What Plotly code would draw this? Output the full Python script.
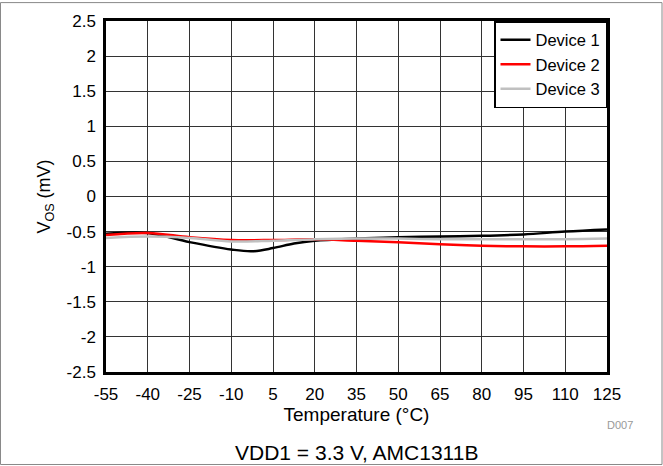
import plotly.graph_objects as go

temps1 = [-55, -40, -25, -10, -2.5, 5, 12.5, 20, 35, 50, 65, 80, 95, 110, 125]
dev1 = [-0.53, -0.52, -0.65, -0.755, -0.78, -0.735, -0.67, -0.63, -0.60, -0.58, -0.57, -0.56, -0.54, -0.50, -0.47]
temps = [-55, -40, -25, -10, 5, 20, 35, 50, 65, 80, 95, 110, 125]
dev2 = [-0.55, -0.52, -0.58, -0.62, -0.62, -0.61, -0.63, -0.65, -0.68, -0.70, -0.71, -0.71, -0.70]
dev3 = [-0.59, -0.57, -0.59, -0.64, -0.63, -0.61, -0.60, -0.60, -0.61, -0.61, -0.61, -0.61, -0.60]
xticks = [-55, -40, -25, -10, 5, 20, 35, 50, 65, 80, 95, 110, 125]
yticks = [-2.5, -2, -1.5, -1, -0.5, 0, 0.5, 1, 1.5, 2, 2.5]

font = "Liberation Sans"
fig = go.Figure()
for name, xs, ys, col in [("Device 1", temps1, dev1, "black"),
                          ("Device 2", temps, dev2, "#ff0000"),
                          ("Device 3", temps, dev3, "#c0c0c0")]:
    fig.add_trace(go.Scatter(x=xs, y=ys, name=name, mode="lines",
                             line=dict(color=col, width=2.5, shape="spline", smoothing=1.0)))

fig.update_layout(
    width=663, height=466,
    margin=dict(l=106, r=56, t=19, b=94),
    paper_bgcolor="white", plot_bgcolor="white",
    font=dict(family=font, size=17, color="black"),
    showlegend=True,
    legend=dict(x=1, y=1, xanchor="right", yanchor="top", bgcolor="white",
                bordercolor="black", borderwidth=1.5, font=dict(size=16.5),
                tracegroupgap=0),
    xaxis=dict(range=[-55, 125], tickvals=xticks, ticktext=[str(t) for t in xticks],
               showgrid=True, gridcolor="#333", gridwidth=1, zeroline=False,
               showline=True, linecolor="black", linewidth=2.5, mirror=True,
               ticks="", ticklabelstandoff=5, tickfont=dict(size=17),
               title=dict(text="Temperature (°C)", font=dict(size=19), standoff=3)),
    yaxis=dict(range=[-2.5, 2.5], tickvals=yticks, ticktext=[("%g" % t) for t in yticks],
               showgrid=True, gridcolor="#333", gridwidth=1, zeroline=False,
               showline=True, linecolor="black", linewidth=2.5, mirror=True,
               ticks="", ticklabelstandoff=4, tickfont=dict(size=17),
               title=dict(text="V<sub>OS</sub> (mV)", font=dict(size=18), standoff=12)),
)
fig.add_annotation(text="VDD1 = 3.3 V, AMC1311B", xref="paper", yref="paper",
                   x=0.5, y=-0.228, xanchor="center", yanchor="middle",
                   showarrow=False, font=dict(size=21))
fig.add_annotation(text="D007", xref="paper", yref="paper",
                   x=1.026, y=-0.15, xanchor="center", yanchor="middle",
                   showarrow=False, font=dict(size=11, color="#999"))
fig.add_shape(type="rect", xref="paper", yref="paper",
              x0=-0.2106, x1=1.1098, y0=-0.2635, y1=1.0524,
              line=dict(color="#888", width=1), layer="below")
fig.write_html("out.html", config={"displayModeBar": False},
               post_script="document.body.style.margin='0';document.body.style.overflow='hidden';")
